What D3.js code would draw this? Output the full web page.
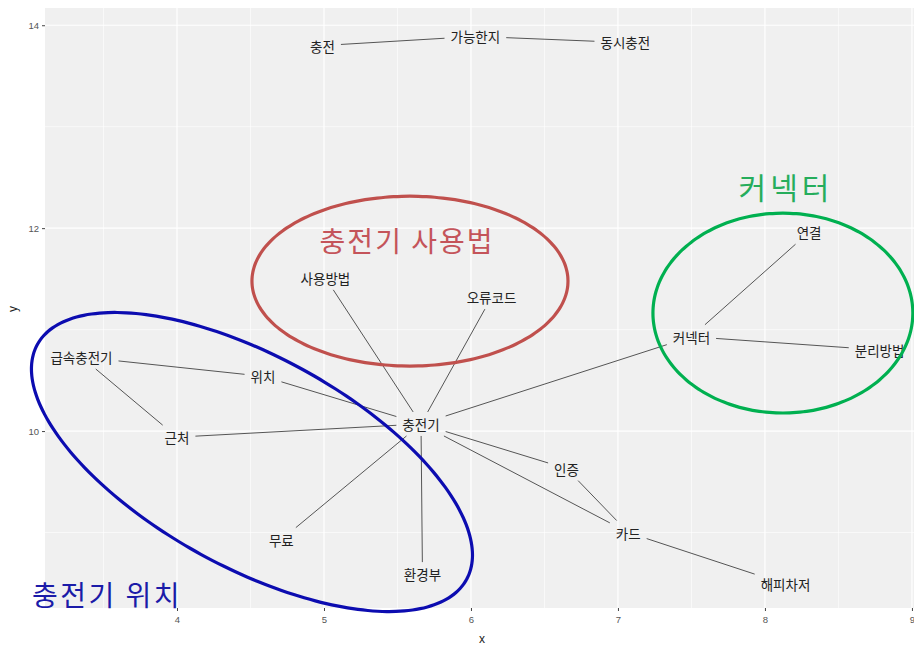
<!DOCTYPE html>
<html><head><meta charset="utf-8">
<script src="https://cdn.jsdelivr.net/npm/d3@7/dist/d3.min.js"></script>
<style>
html,body{margin:0;padding:0;background:#fff;}
svg{display:block;font-family:"Noto Sans CJK KR","Noto Sans",sans-serif;}
</style></head>
<body>
<svg id="chart" width="914" height="647"></svg>
<script>
// ---- data ----
const nodeNames = ["충전","가능한지","동시충전","사용방법","오류코드","급속충전기","위치","충전기","근처","무료","환경부","인증","카드","해피차저","커넥터","연결","분리방법"];
const nodeX = [4.99,6.03,7.05,5.01,6.14,3.35,4.585,5.66,4.0,4.71,5.67,6.65,7.07,8.14,7.50,8.30,8.78];
const nodeY = [13.80,13.89,13.83,11.51,11.32,10.73,10.54,10.07,9.94,8.93,8.59,9.63,9.00,8.49,10.93,11.96,10.80];
const edgeFrom = ["충전","가능한지","충전기","충전기","충전기","위치","급속충전기","근처","충전기","충전기","충전기","충전기","충전기","인증","카드","커넥터","커넥터"];
const edgeTo   = ["가능한지","동시충전","사용방법","오류코드","위치","급속충전기","근처","충전기","무료","환경부","커넥터","인증","카드","카드","해피차저","연결","분리방법"];
const xTicks = [4,5,6,7,8,9];
const yTicks = [10,12,14];
const xMinor = [3.5,4.5,5.5,6.5,7.5,8.5];
const yMinor = [9,11,13];
// group annotations (ellipses in data units)
const groupLabels = ["충전기 사용법","커넥터","충전기 위치"];
const groupCx = [5.585,8.122,4.51];
const groupCy = [11.478,11.163,9.695];
const groupUx = [1.075,0.884,1.460];
const groupUy = [0,0,-1.158];
const groupVx = [0,0,-0.345];
const groupVy = [0.837,0.985,-0.912];
const groupLabelX = [5.565,8.143,3.524];
const groupLabelY = [11.88,12.42,8.39];
const groupColors = ["#c0504d","#00b050","#0c0cb0"];
const groupTextColors = ["#c4545a","#26ad5c","#1b1ba8"];

// ---- layout ----
const svg = d3.select("#chart");
const pL = 45, pR = 914, pT = 8, pB = 608;
const x = d3.scaleLinear().domain([3.102, 9.014]).range([pL, pR]);
const y = d3.scaleLinear().domain([8.256, 14.17]).range([pB, pT]);

svg.append("rect").attr("x",pL).attr("y",pT).attr("width",pR-pL).attr("height",pB-pT).attr("fill","#f0f0f0");
const grid = svg.append("g");
grid.selectAll(".xm").data(xMinor).join("line").attr("x1",d=>x(d)).attr("x2",d=>x(d)).attr("y1",pT).attr("y2",pB).attr("stroke","#fff").attr("stroke-width",0.6);
grid.selectAll(".ym").data(yMinor).join("line").attr("y1",d=>y(d)).attr("y2",d=>y(d)).attr("x1",pL).attr("x2",pR).attr("stroke","#fff").attr("stroke-width",0.6);
grid.selectAll(".xM").data(xTicks).join("line").attr("x1",d=>x(d)).attr("x2",d=>x(d)).attr("y1",pT).attr("y2",pB).attr("stroke","#fff").attr("stroke-width",1.2);
grid.selectAll(".yM").data(yTicks).join("line").attr("y1",d=>y(d)).attr("y2",d=>y(d)).attr("x1",pL).attr("x2",pR).attr("stroke","#fff").attr("stroke-width",1.2);

// axes
const xAxis = svg.append("g").attr("transform",`translate(0,${pB})`)
  .call(d3.axisBottom(x).tickValues(xTicks).tickSize(3).tickPadding(5).tickFormat(d3.format("d")));
const yAxis = svg.append("g").attr("transform",`translate(${pL},0)`)
  .call(d3.axisLeft(y).tickValues(yTicks).tickSize(3).tickPadding(3).tickFormat(d3.format("d")));
[xAxis,yAxis].forEach(a=>{
  a.select(".domain").remove();
  a.selectAll(".tick line").attr("stroke","#444");
  a.selectAll(".tick text").attr("fill","#555").attr("font-size",9.5).attr("font-family","Liberation Sans, Arial, sans-serif");
});
svg.append("text").attr("x",482).attr("y",643).attr("text-anchor","middle").attr("font-size",12).attr("fill","#222").attr("font-family","Liberation Sans, Arial, sans-serif").text("x");
svg.append("text").attr("transform","translate(17,309) rotate(-90)").attr("text-anchor","middle").attr("font-size",12).attr("fill","#222").attr("font-family","Liberation Sans, Arial, sans-serif").text("y");

// nodes (labels)
const idx = {}; nodeNames.forEach((n,i)=>idx[n]=i);
const edgeG = svg.append("g");
const labelG = svg.append("g");
const labels = labelG.selectAll("text").data(nodeNames).join("text")
  .attr("x",(d,i)=>x(nodeX[i])).attr("y",(d,i)=>y(nodeY[i]))
  .attr("text-anchor","middle").attr("dominant-baseline","central")
  .attr("font-size",13.5).attr("fill","#222").text(d=>d);
const halfW = {};
labels.each(function(d){ halfW[d] = this.getComputedTextLength()/2 + 6; });
const halfH = 12;

function cut(px,py,qx,qy,hw,hh){
  const dx=qx-px, dy=qy-py, L=Math.hypot(dx,dy);
  const ux=dx/L, uy=dy/L;
  const t=Math.min(Math.abs(ux)>1e-6?hw/Math.abs(ux):1e9, Math.abs(uy)>1e-6?hh/Math.abs(uy):1e9);
  return [px+ux*t, py+uy*t];
}
edgeFrom.forEach((f,k)=>{
  const a=idx[f], b=idx[edgeTo[k]];
  const ax=x(nodeX[a]), ay=y(nodeY[a]), bx=x(nodeX[b]), by=y(nodeY[b]);
  const s=cut(ax,ay,bx,by,halfW[f],halfH);
  const e=cut(bx,by,ax,ay,halfW[edgeTo[k]],halfH);
  edgeG.append("line").attr("x1",s[0]).attr("y1",s[1]).attr("x2",e[0]).attr("y2",e[1])
    .attr("stroke","#555").attr("stroke-width",1);
});

// group ellipses and labels
const ts = d3.range(0,361,3).map(t=>t*Math.PI/180);
const annG = svg.append("g");
const gFont = [28,30,28], gSpace = [2,4,2.5];
groupLabels.forEach((g,i)=>{
  const pts = ts.map(t=>[groupCx[i]+Math.cos(t)*groupUx[i]+Math.sin(t)*groupVx[i],
                         groupCy[i]+Math.cos(t)*groupUy[i]+Math.sin(t)*groupVy[i]]);
  annG.append("path").attr("d", d3.line().x(p=>x(p[0])).y(p=>y(p[1])).curve(d3.curveCardinalClosed)(pts))
    .attr("fill","none").attr("stroke",groupColors[i]).attr("stroke-width",3.2);
  annG.append("text").attr("x",x(groupLabelX[i])).attr("y",y(groupLabelY[i]))
    .attr("text-anchor","middle").attr("dominant-baseline","central")
    .attr("font-size",gFont[i]).attr("letter-spacing",gSpace[i]).attr("fill",groupTextColors[i]).text(g);
});
</script>
</body></html>
